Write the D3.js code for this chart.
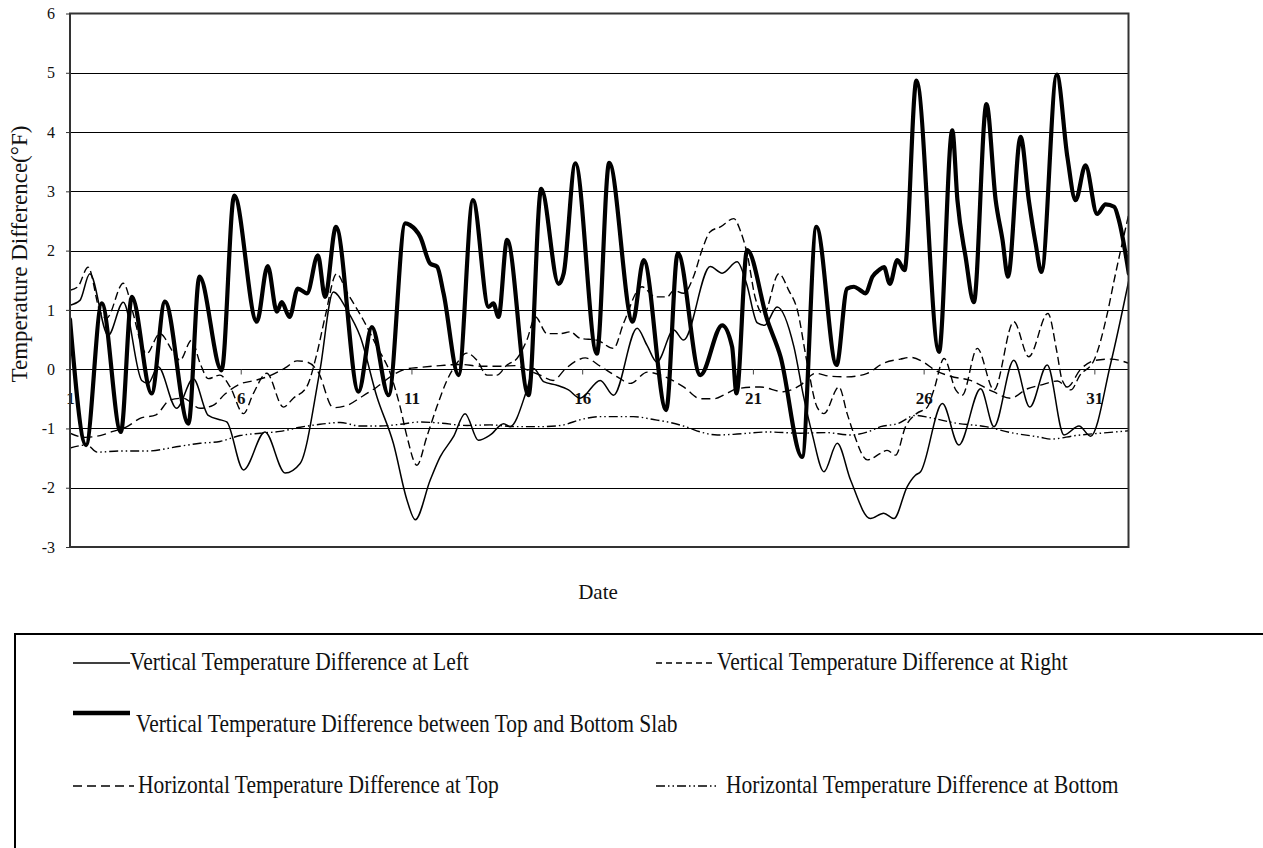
<!DOCTYPE html>
<html>
<head>
<meta charset="utf-8">
<script src="https://cdn.jsdelivr.net/npm/d3@7"></script>
<style>
  html, body { margin: 0; padding: 0; background: #fff; }
  svg { display: block; font-family: "Liberation Serif", "Times New Roman", serif; }
</style>
</head>
<body>
<svg id="chart" width="1263" height="848"></svg>
<script>
// Axis settings
const yTicks = [-3, -2, -1, 0, 1, 2, 3, 4, 5, 6];
const xTickDays = [1, 6, 11, 16, 21, 26, 31];

// Vertical temperature difference between top and bottom slab (thick solid)
const slabDays = [1.00, 1.47, 1.93, 2.49, 2.81, 3.39, 3.78, 4.47, 4.79, 5.44, 5.81, 6.47, 6.79, 7.06, 7.20, 7.43, 7.67, 7.94, 8.26, 8.47, 8.79, 9.45, 9.84, 10.33, 10.82, 10.96, 11.26, 11.55, 11.75, 11.94, 12.38, 12.80, 13.26, 13.40, 13.55, 13.80, 14.43, 14.80, 15.31, 15.46, 15.80, 16.43, 16.79, 17.48, 17.80, 18.46, 18.80, 19.46, 20.10, 20.39, 20.52, 20.83, 21.42, 21.81, 22.44, 22.86, 23.45, 23.76, 23.96, 24.15, 24.30, 24.50, 24.69, 24.84, 25.01, 25.23, 25.44, 25.79, 26.45, 26.84, 26.99, 27.23, 27.47, 27.84, 28.11, 28.31, 28.47, 28.84, 29.08, 29.28, 29.45, 29.90, 30.21, 30.45, 30.74, 31.08, 31.33, 31.58, 31.72, 32.01];
const slabValues = [0.84, -1.28, 1.11, -1.06, 1.22, -0.41, 1.14, -0.92, 1.56, -0.02, 2.93, 0.80, 1.74, 0.97, 1.13, 0.88, 1.36, 1.28, 1.92, 1.22, 2.40, -0.38, 0.71, -0.44, 2.46, 2.43, 2.23, 1.78, 1.73, 1.28, -0.10, 2.85, 1.05, 1.11, 0.88, 2.18, -0.44, 3.04, 1.44, 1.62, 3.47, 0.26, 3.48, 0.80, 1.84, -0.69, 1.96, -0.10, 0.74, 0.38, -0.41, 2.01, 0.83, 0.21, -1.48, 2.40, 0.07, 1.36, 1.39, 1.33, 1.28, 1.56, 1.67, 1.72, 1.44, 1.84, 1.67, 4.87, 0.29, 4.03, 2.85, 1.89, 1.13, 4.47, 2.85, 2.18, 1.56, 3.92, 2.85, 2.12, 1.64, 4.97, 3.58, 2.85, 3.44, 2.62, 2.78, 2.74, 2.51, 1.61];

// Vertical temperature difference at left (thin solid)
const leftDays = [1.00, 1.29, 1.58, 2.12, 2.56, 3.10, 3.29, 3.58, 4.12, 4.61, 5.05, 5.44, 5.59, 6.08, 6.71, 7.30, 7.74, 8.32, 8.71, 9.11, 9.50, 9.99, 10.47, 10.87, 11.11, 11.55, 11.84, 12.23, 12.57, 12.96, 13.31, 13.70, 13.89, 14.38, 14.58, 14.87, 15.26, 15.60, 15.94, 16.53, 16.92, 17.61, 17.90, 18.19, 18.68, 18.97, 19.75, 20.10, 20.54, 20.81, 21.13, 21.34, 21.71, 22.20, 22.48, 22.74, 23.08, 23.47, 23.86, 24.44, 24.83, 25.13, 25.52, 25.76, 25.91, 26.55, 27.03, 27.67, 28.06, 28.64, 29.11, 29.62, 30.11, 30.55, 30.89, 31.48, 32.01];
const leftValues = [1.08, 1.16, 1.61, 0.57, 1.13, -0.19, -0.24, 0.04, -0.66, -0.16, -0.78, -0.86, -0.89, -1.70, -1.06, -1.75, -1.59, -0.02, 1.30, 1.00, 0.55, -0.47, -1.25, -2.21, -2.54, -1.87, -1.48, -1.14, -0.75, -1.20, -1.11, -0.92, -0.97, -0.35, 0.01, -0.21, -0.27, -0.35, -0.49, -0.19, -0.44, 0.69, 0.40, 0.12, 0.66, 0.49, 1.73, 1.62, 1.81, 1.45, 0.78, 0.74, 1.05, 0.38, -0.45, -1.10, -1.73, -1.25, -1.87, -2.52, -2.43, -2.52, -1.98, -1.79, -1.73, -0.58, -1.28, -0.33, -0.97, 0.15, -0.64, 0.07, -1.11, -0.96, -1.13, 0.10, 1.50];

// Vertical temperature difference at right (short dashes)
const rightDays = [1.00, 1.23, 1.53, 1.88, 2.07, 2.56, 2.85, 3.05, 3.24, 3.63, 4.02, 4.22, 4.56, 4.81, 5.05, 5.39, 5.69, 6.08, 6.37, 6.76, 7.25, 7.54, 7.93, 8.23, 8.47, 8.81, 9.11, 9.59, 9.99, 10.38, 10.67, 10.87, 11.16, 11.45, 11.74, 12.04, 12.33, 12.62, 12.92, 13.21, 13.50, 13.80, 14.09, 14.38, 14.63, 14.97, 15.36, 15.65, 15.94, 16.43, 16.92, 17.21, 17.75, 18.14, 18.49, 18.68, 18.97, 19.26, 19.51, 19.75, 20.05, 20.44, 20.63, 20.83, 21.07, 21.31, 21.76, 22.05, 22.30, 22.59, 22.88, 23.08, 23.52, 23.76, 23.95, 24.35, 24.74, 24.93, 25.18, 25.47, 25.79, 26.11, 26.30, 26.60, 26.94, 27.13, 27.57, 28.06, 28.64, 29.08, 29.64, 29.90, 30.06, 30.31, 30.58, 30.99, 31.38, 31.58, 32.01];
const rightValues = [1.33, 1.39, 1.72, 0.97, 0.86, 1.45, 0.94, 0.49, 0.26, 0.60, 0.29, 0.15, 0.49, 0.10, -0.16, -0.10, -0.30, -0.75, -0.41, -0.07, -0.64, -0.49, -0.30, 0.26, 0.88, 1.61, 1.30, 0.83, 0.38, -0.07, -0.64, -1.14, -1.62, -1.14, -0.64, -0.19, 0.10, 0.27, 0.15, -0.10, -0.10, 0.07, 0.18, 0.49, 0.88, 0.60, 0.60, 0.63, 0.52, 0.49, 0.35, 0.77, 1.39, 1.22, 1.22, 1.33, 1.28, 1.56, 2.01, 2.32, 2.40, 2.54, 2.34, 1.95, 1.20, 0.92, 1.61, 1.33, 1.00, 0.10, -0.64, -0.75, -0.30, -0.75, -1.08, -1.53, -1.42, -1.37, -1.45, -0.97, -0.75, -0.64, -0.35, 0.18, -0.35, -0.44, 0.35, -0.35, 0.80, 0.21, 0.94, 0.30, -0.19, -0.35, -0.10, 0.15, 0.94, 1.50, 2.62];

// Horizontal temperature difference at top (long dashes)
const topDays = [1.00, 1.44, 1.88, 2.26, 2.67, 3.05, 3.52, 3.93, 4.31, 4.81, 5.19, 5.54, 5.98, 6.42, 6.86, 7.30, 7.65, 7.94, 8.27, 8.71, 9.12, 9.50, 9.99, 10.38, 10.82, 11.26, 11.84, 12.43, 13.02, 13.60, 14.04, 14.33, 14.77, 15.15, 15.50, 15.86, 16.09, 16.53, 17.03, 17.41, 17.91, 18.38, 18.97, 19.47, 19.85, 20.20, 20.54, 21.21, 21.89, 22.39, 22.83, 23.27, 23.77, 24.35, 24.82, 25.32, 25.62, 25.99, 26.34, 26.79, 27.37, 28.04, 28.54, 29.04, 29.42, 29.92, 30.21, 30.60, 31.04, 31.48, 32.01];
const topValues = [-1.08, -1.15, -1.12, -1.05, -0.97, -0.83, -0.77, -0.52, -0.49, -0.66, -0.61, -0.42, -0.25, -0.19, -0.11, 0.02, 0.14, 0.12, -0.05, -0.65, -0.61, -0.48, -0.30, -0.13, 0.00, 0.03, 0.06, 0.08, 0.05, 0.05, 0.06, 0.00, -0.10, -0.19, 0.00, 0.15, 0.19, 0.05, -0.13, -0.24, -0.05, -0.12, -0.30, -0.50, -0.50, -0.42, -0.33, -0.30, -0.38, -0.27, -0.07, -0.12, -0.13, -0.07, 0.10, 0.17, 0.20, 0.12, -0.02, -0.12, -0.19, -0.38, -0.49, -0.33, -0.27, -0.20, -0.30, 0.00, 0.15, 0.17, 0.10];

// Horizontal temperature difference at bottom (dash-dot-dot)
const bottomDays = [1.00, 1.50, 1.79, 2.46, 3.26, 4.22, 4.81, 5.39, 5.98, 6.57, 7.15, 7.74, 8.32, 8.91, 9.50, 10.08, 10.67, 11.26, 11.84, 12.63, 13.31, 14.04, 14.77, 15.36, 16.03, 16.53, 17.50, 18.09, 18.58, 19.03, 19.47, 19.96, 20.43, 21.43, 22.40, 23.13, 23.86, 24.36, 24.74, 25.23, 25.76, 26.20, 26.94, 27.82, 28.55, 29.43, 29.72, 30.45, 31.18, 32.01];
const bottomValues = [-1.33, -1.28, -1.40, -1.38, -1.38, -1.30, -1.25, -1.22, -1.12, -1.08, -1.05, -0.98, -0.93, -0.90, -0.96, -0.96, -0.93, -0.89, -0.91, -0.95, -0.94, -0.97, -0.97, -0.95, -0.84, -0.80, -0.80, -0.85, -0.90, -0.97, -1.06, -1.11, -1.10, -1.06, -1.08, -1.07, -1.11, -1.06, -0.97, -0.92, -0.78, -0.82, -0.91, -0.97, -1.07, -1.15, -1.18, -1.12, -1.08, -1.04];

const legendLabels = [
  "Vertical Temperature Difference at Left",
  "Vertical Temperature Difference at Right",
  "Vertical Temperature Difference between Top and Bottom Slab",
  "Horizontal Temperature Difference at Top",
  "Horizontal Temperature Difference at Bottom"
];

const svg = d3.select("#chart");
const plot = { left: 70, top: 13.5, right: 1128.5, bottom: 547 };

const x = d3.scaleLinear().domain([1, 32]).range([plot.left, plot.right]);
const y = d3.scaleLinear().domain([-3, 6]).range([plot.bottom, plot.top]);

// series definitions (styles)
const series = [
  { days: bottomDays, values: bottomValues, width: 1.4, dash: "9,3,1.5,3,1.5,3" },
  { days: topDays, values: topValues, width: 1.4, dash: "9,5" },
  { days: rightDays, values: rightValues, width: 1.4, dash: "8,4" },
  { days: leftDays, values: leftValues, width: 1.5, dash: null },
  { days: slabDays, values: slabValues, width: 4.2, dash: null }
];

// gridlines
svg.append("g")
  .selectAll("line")
  .data(yTicks.filter(v => v > -3 && v < 6))
  .join("line")
  .attr("x1", plot.left).attr("x2", plot.right)
  .attr("y1", d => Math.round(y(d)) + 0.5).attr("y2", d => Math.round(y(d)) + 0.5)
  .attr("stroke", "#000").attr("stroke-width", 1);

// y axis
const yAxis = svg.append("g")
  .attr("transform", `translate(${plot.left},0)`)
  .call(d3.axisLeft(y).tickValues(yTicks).tickSize(4).tickPadding(11).tickFormat(d => String(d)));
yAxis.select(".domain").remove();
yAxis.selectAll("line").attr("stroke", "#333");
yAxis.selectAll("text")
  .attr("font-family", '"Liberation Serif", "Times New Roman", serif')
  .attr("font-size", 16).attr("fill", "#111");

// x axis drawn along the zero line
const xAxis = svg.append("g")
  .attr("transform", `translate(0,${Math.round(y(0)) + 0.5})`)
  .call(d3.axisBottom(x).tickValues(xTickDays).tickSize(5).tickPadding(17).tickFormat(d => String(d)));
xAxis.select(".domain").remove();
xAxis.selectAll("line").attr("stroke", "#444");
xAxis.selectAll("text")
  .attr("font-family", '"Liberation Serif", "Times New Roman", serif')
  .attr("font-size", 17).attr("font-weight", "bold").attr("fill", "#111");

// clip for the series
svg.append("clipPath").attr("id", "plotClip")
  .append("rect")
  .attr("x", plot.left).attr("y", plot.top)
  .attr("width", plot.right - plot.left).attr("height", plot.bottom - plot.top);

const line = d3.line()
  .x(d => x(d[0]))
  .y(d => y(d[1]))
  .curve(d3.curveMonotoneX);

const lines = svg.append("g").attr("clip-path", "url(#plotClip)");
series.forEach(s => {
  const pts = s.days.map((d, i) => [d, s.values[i]]);
  lines.append("path")
    .attr("d", line(pts))
    .attr("fill", "none")
    .attr("stroke", "#000")
    .attr("stroke-width", s.width)
    .attr("stroke-linejoin", "round")
    .attr("stroke-linecap", s.dash ? "butt" : "round")
    .attr("stroke-dasharray", s.dash);
});

// plot frame
svg.append("rect")
  .attr("x", plot.left).attr("y", plot.top)
  .attr("width", plot.right - plot.left).attr("height", plot.bottom - plot.top)
  .attr("fill", "none").attr("stroke", "#333").attr("stroke-width", 2);

// axis titles
svg.append("text")
  .attr("transform", "translate(27,254) rotate(-90)")
  .attr("text-anchor", "middle")
  .attr("font-size", 23).attr("fill", "#111")
  .text("Temperature Difference(°F)");

svg.append("text")
  .attr("x", 598).attr("y", 599)
  .attr("text-anchor", "middle")
  .attr("font-size", 21).attr("fill", "#111")
  .text("Date");

// legend box
const lg = svg.append("g");
lg.append("rect")
  .attr("x", 15).attr("y", 634)
  .attr("width", 1320).attr("height", 300)
  .attr("fill", "none").attr("stroke", "#000").attr("stroke-width", 2);

const legendItems = [
  { label: legendLabels[0], x1: 73, x2: 130, ly: 663, tx: 130, ty: 670, width: 1.5, dash: null },
  { label: legendLabels[1], x1: 656, x2: 716, ly: 663, tx: 717, ty: 670, width: 1.4, dash: "6,4" },
  { label: legendLabels[2], x1: 73, x2: 130, ly: 713, tx: 136, ty: 732, width: 4.5, dash: null },
  { label: legendLabels[3], x1: 73, x2: 134, ly: 786, tx: 138, ty: 793, width: 1.4, dash: "9,5" },
  { label: legendLabels[4], x1: 656, x2: 716, ly: 786, tx: 726, ty: 793, width: 1.4, dash: "9,3,1.5,3,1.5,3" }
];

// legend glyphs are a little taller than they are wide
const textStretch = 0.87;
legendItems.forEach(it => {
  lg.append("line")
    .attr("x1", it.x1).attr("x2", it.x2)
    .attr("y1", it.ly).attr("y2", it.ly)
    .attr("stroke", "#000").attr("stroke-width", it.width)
    .attr("stroke-dasharray", it.dash);
  lg.append("text")
    .attr("transform", `translate(${it.tx},${it.ty}) scale(${textStretch},1)`)
    .attr("font-size", 24.7).attr("fill", "#111")
    .text(it.label);
});
</script>
</body>
</html>
